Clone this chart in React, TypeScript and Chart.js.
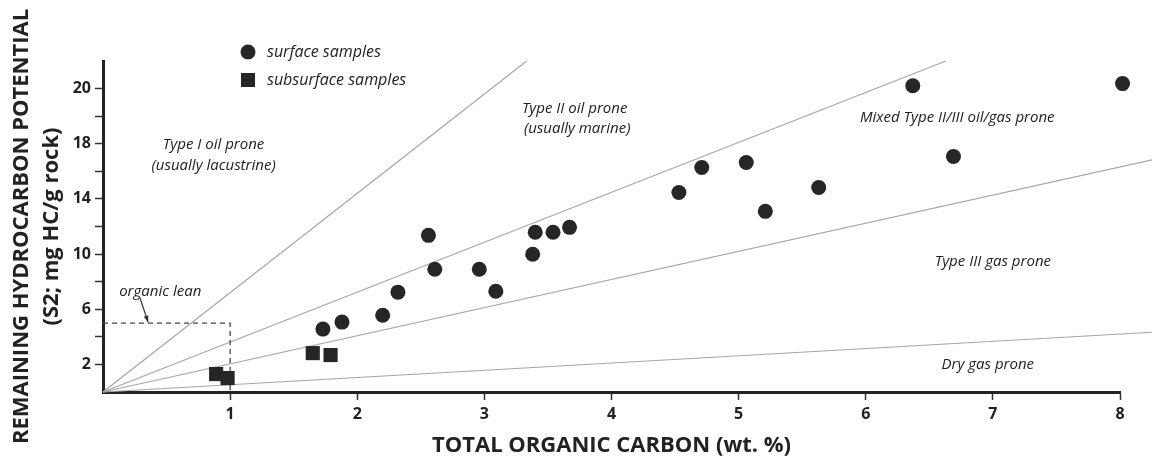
import { useEffect, useRef } from 'react';
import { Chart, registerables } from 'chart.js';

Chart.register(...registerables);

// Surface samples: TOC (wt.%) and S2 (mg HC/g rock)
const surfaceToc = [1.73, 1.88, 2.2, 2.32, 2.56, 2.61, 2.96, 3.09, 3.38, 3.4, 3.54, 3.67, 4.53, 4.71, 5.06, 5.21, 5.63, 6.37, 6.69, 8.02];
const surfaceS2 = [4.56, 5.07, 5.57, 7.24, 11.36, 8.9, 8.9, 7.31, 9.99, 11.58, 11.58, 11.94, 14.47, 16.28, 16.64, 13.1, 14.83, 22.21, 17.08, 22.36];

// Subsurface samples
const subsurfaceToc = [0.89, 0.98, 1.65, 1.79];
const subsurfaceS2 = [1.3, 1.01, 2.82, 2.68];

// Kerogen-type boundaries through the origin: S2 = slope x TOC
const boundarySlopes = [7.2, 3.62, 2.04, 0.525];
const boundaryEndToc = [3.33, 6.63, 8.3, 8.3];

// "organic lean" box (TOC < 1, S2 < 5)
const leanToc = [0, 1, 1];
const leanS2 = [5, 5, 0];

// Axis ticks
const xTickValues = [1, 2, 3, 4, 5, 6, 7, 8];
const yTickValues = [2, 6, 10, 14, 18, 22];
const yTickTexts = ['2', '6', '10', '14', '18', '20'];

// Field labels, anchored in data units (TOC, S2)
const zoneTexts = [
  'Type I oil prone',
  '(usually lacustrine)',
  'Type II oil prone',
  '(usually marine)',
  'Mixed Type II/III oil/gas prone',
  'Type III gas prone',
  'Dry gas prone',
];
const zoneToc = [0.87, 0.87, 3.71, 3.73, 6.72, 7.0, 6.96];
const zoneS2 = [17.95, 16.43, 20.55, 19.1, 19.9, 9.48, 1.95];

const FONT = '"Open Sans", "Noto Sans", sans-serif';
const INK = '#262626';
const TEXT = '#222';

const annotationPlugin = {
  id: 'fieldAnnotations',
  afterDraw(chart: any) {
    const { ctx, scales, chartArea } = chart;
    const xs = scales.x;
    const ys = scales.y;
    ctx.save();
    ctx.fillStyle = TEXT;
    ctx.textAlign = 'center';
    ctx.textBaseline = 'middle';
    ctx.font = `italic 15px ${FONT}`;
    zoneTexts.forEach((t, i) => {
      ctx.fillText(t, xs.getPixelForValue(zoneToc[i]), ys.getPixelForValue(zoneS2[i]));
    });

    // organic lean label with arrow onto the box
    ctx.fillText('organic lean', xs.getPixelForValue(0.45), ys.getPixelForValue(7.25));
    const ax0 = xs.getPixelForValue(0.29);
    const ay0 = ys.getPixelForValue(6.85);
    const ax1 = xs.getPixelForValue(0.355);
    const ay1 = ys.getPixelForValue(5.05);
    ctx.strokeStyle = '#333';
    ctx.lineWidth = 1.2;
    ctx.beginPath();
    ctx.moveTo(ax0, ay0);
    ctx.lineTo(ax1, ay1);
    ctx.stroke();
    const ang = Math.atan2(ay1 - ay0, ax1 - ax0);
    const hl = 7;
    ctx.beginPath();
    ctx.moveTo(ax1, ay1);
    ctx.lineTo(ax1 - hl * Math.cos(ang - 0.35), ay1 - hl * Math.sin(ang - 0.35));
    ctx.lineTo(ax1 - hl * Math.cos(ang + 0.35), ay1 - hl * Math.sin(ang + 0.35));
    ctx.closePath();
    ctx.fillStyle = '#333';
    ctx.fill();

    // legend
    const lx = chartArea.left + 145;
    const ly1 = chartArea.top - 9;
    const ly2 = chartArea.top + 19;
    ctx.fillStyle = INK;
    ctx.beginPath();
    ctx.arc(lx, ly1, 7.5, 0, Math.PI * 2);
    ctx.fill();
    ctx.fillRect(lx - 7, ly2 - 7, 14, 14);
    ctx.fillStyle = TEXT;
    ctx.textAlign = 'left';
    ctx.font = `italic 16px ${FONT}`;
    ctx.fillText('surface samples', lx + 19, ly1);
    ctx.fillText('subsurface samples', lx + 19, ly2);
    ctx.restore();
  },
};

export default function App() {
  const canvasRef = useRef<HTMLCanvasElement | null>(null);

  useEffect(() => {
    if (!canvasRef.current) return;

    const pts = (xs: number[], ys: number[]) => xs.map((x, i) => ({ x, y: ys[i] }));

    const boundaryDatasets = boundarySlopes.map((s, i) => ({
      type: 'line' as const,
      data: [
        { x: 0, y: 0 },
        { x: boundaryEndToc[i], y: s * boundaryEndToc[i] },
      ],
      borderColor: '#a6a6a6',
      borderWidth: 1.2,
      pointRadius: 0,
      clip: false as any,
      order: 2,
    }));

    const chart = new Chart(canvasRef.current, {
      type: 'scatter',
      data: {
        datasets: [
          {
            label: 'surface samples',
            data: pts(surfaceToc, surfaceS2),
            backgroundColor: INK,
            borderWidth: 0,
            pointRadius: 7.5,
            pointStyle: 'circle',
            clip: false as any,
            order: 0,
          },
          {
            label: 'subsurface samples',
            data: pts(subsurfaceToc, subsurfaceS2),
            backgroundColor: INK,
            borderWidth: 0,
            pointRadius: 10,
            pointStyle: 'rect',
            clip: false as any,
            order: 0,
          },
          {
            type: 'line',
            label: 'organic lean',
            data: pts(leanToc, leanS2),
            borderColor: '#444',
            borderWidth: 1.3,
            borderDash: [5, 4],
            pointRadius: 0,
            order: 1,
          } as any,
          ...(boundaryDatasets as any[]),
        ],
      },
      options: {
        animation: false,
        responsive: false,
        events: [],
        layout: { padding: { top: 61, right: 32, bottom: 0, left: 0 } },
        plugins: { legend: { display: false }, tooltip: { enabled: false } },
        scales: {
          x: {
            type: 'linear',
            min: 0,
            max: 8,
            afterFit: (s: any) => {
              s.height = 70;
            },
            afterBuildTicks: (s: any) => {
              s.ticks = [0, ...xTickValues].map((v) => ({ value: v }));
            },
            border: { display: true, width: 3, color: '#222' },
            grid: {
              drawOnChartArea: false,
              drawTicks: true,
              tickLength: 8,
              tickWidth: 1.5,
              tickColor: (c: any) => (c.tick && c.tick.value === 0 ? 'rgba(0,0,0,0)' : '#333'),
            },
            ticks: {
              autoSkip: false,
              maxRotation: 0,
              padding: 5,
              color: TEXT,
              font: { family: FONT, size: 16, weight: 'bold' },
              callback: (v: any) => (xTickValues.includes(Number(v)) ? String(v) : ''),
            },
            title: {
              display: true,
              text: 'TOTAL ORGANIC CARBON (wt. %)',
              color: TEXT,
              font: { family: FONT, size: 22, weight: 'bold', lineHeight: 1.2 },
              padding: { top: 0, bottom: 3 },
            },
          },
          y: {
            type: 'linear',
            min: 0,
            max: 24,
            afterFit: (s: any) => {
              s.width = 103;
            },
            border: { display: true, width: 3, color: '#222' },
            grid: {
              drawOnChartArea: false,
              drawTicks: true,
              tickLength: 8,
              tickWidth: 1.5,
              tickColor: (c: any) =>
                c.tick && (c.tick.value === 0 || c.tick.value === 24) ? 'rgba(0,0,0,0)' : '#333',
            },
            ticks: {
              stepSize: 2,
              autoSkip: false,
              padding: 4,
              color: TEXT,
              font: { family: FONT, size: 16, weight: 'bold' },
              callback: (v: any) => {
                const i = yTickValues.indexOf(Number(v));
                return i >= 0 ? yTickTexts[i] : '';
              },
            },
            title: {
              display: true,
              text: ['REMAINING HYDROCARBON POTENTIAL', '(S2; mg HC/g rock)'],
              color: TEXT,
              font: { family: FONT, size: 22, weight: 'bold', lineHeight: '30px' },
              padding: { top: 7, bottom: 0 },
            },
          },
        },
      } as any,
      plugins: [annotationPlugin],
    });

    return () => chart.destroy();
  }, []);

  return (
    <div style={{ position: 'absolute', left: 0, top: 0, width: 1152, height: 462, background: '#fff' }}>
      <canvas ref={canvasRef} width={1152} height={462} />
    </div>
  );
}
